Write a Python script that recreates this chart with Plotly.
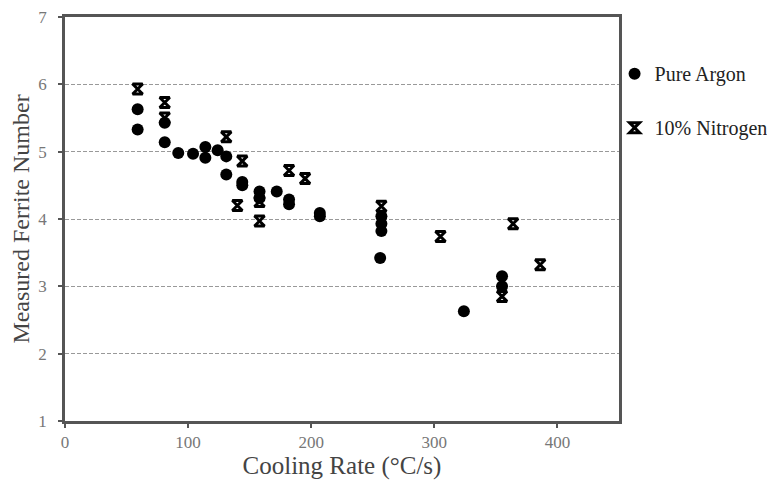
import plotly.graph_objects as go

# Pure Argon (circles)
argon_x = [59, 59, 81, 81, 92, 104, 114, 114, 124, 131, 131, 144, 144,
           158, 158, 172, 182, 182, 207, 207, 257, 257, 257, 256, 324, 355, 355]
argon_y = [5.63, 5.33, 5.43, 5.14, 4.98, 4.97, 5.07, 4.91, 5.02, 4.93, 4.66, 4.55, 4.50,
           4.41, 4.31, 4.41, 4.29, 4.22, 4.09, 4.04, 4.04, 3.93, 3.82, 3.42, 2.63, 3.15, 3.00]

# 10% Nitrogen (star markers)
nitro_x = [59, 81, 81, 131, 144, 140, 158, 158, 182, 195, 257, 305, 364, 386, 355]
nitro_y = [5.93, 5.73, 5.50, 5.22, 4.86, 4.20, 4.26, 3.97, 4.72, 4.60, 4.19, 3.74, 3.93, 3.32, 2.85]

x_ticks = [0, 100, 200, 300, 400]
y_ticks = [1, 2, 3, 4, 5, 6, 7]

serif = "Liberation Serif, Times New Roman, serif"

fig = go.Figure()
fig.add_trace(go.Scatter(
    x=argon_x, y=argon_y, mode="markers", name="Pure Argon",
    legendgroup="a",
    marker=dict(symbol="circle", size=12, color="black"),
))
fig.add_trace(go.Scatter(
    x=nitro_x, y=nitro_y, mode="markers", name="10% Nitrogen",
    legendgroup="b",
    marker=dict(symbol="hourglass-open", size=10, color="black",
                line=dict(color="black", width=3)),
))

# the page has an 8px body margin, so the figure is offset by (8, 8) in the window
fig.update_layout(
    width=767, height=473,
    margin=dict(l=57, r=156, t=9, b=60, autoexpand=False),
    paper_bgcolor="white", plot_bgcolor="white",
    font=dict(family=serif, color="#444"),
    showlegend=True,
    legend=dict(x=0.992, y=0.908, xanchor="left", yanchor="top",
                font=dict(family=serif, size=20, color="#222"),
                tracegroupgap=25, itemwidth=30,
                bgcolor="rgba(0,0,0,0)"),
    xaxis=dict(range=[0, 450], tickvals=x_ticks, ticktext=[str(v) for v in x_ticks],
               showline=True, mirror=True, linecolor="#555", linewidth=2.5,
               ticks="outside", ticklen=4, tickcolor="#555", tickwidth=1.5,
               showgrid=False, zeroline=False, automargin=False,
               ticklabeloverflow="allow",
               tickfont=dict(family=serif, size=17, color="#777"),
               title=dict(text="Cooling Rate (°C/s)", standoff=6,
                          font=dict(family=serif, size=25, color="#444"))),
    yaxis=dict(range=[1, 7], tickvals=y_ticks, ticktext=[str(v) for v in y_ticks],
               showline=True, mirror=True, linecolor="#555", linewidth=2.5,
               ticks="outside", ticklen=4, tickcolor="#555", tickwidth=1.5,
               ticklabelstandoff=8, automargin=False,
               ticklabeloverflow="allow",
               showgrid=True, gridcolor="#999", griddash="4px,2px", gridwidth=1.2,
               zeroline=False,
               tickfont=dict(family=serif, size=17, color="#777"),
               title=dict(text="Measured Ferrite Number", standoff=5,
                          font=dict(family=serif, size=24, color="#444"))),
)

fig.write_html("out.html")
